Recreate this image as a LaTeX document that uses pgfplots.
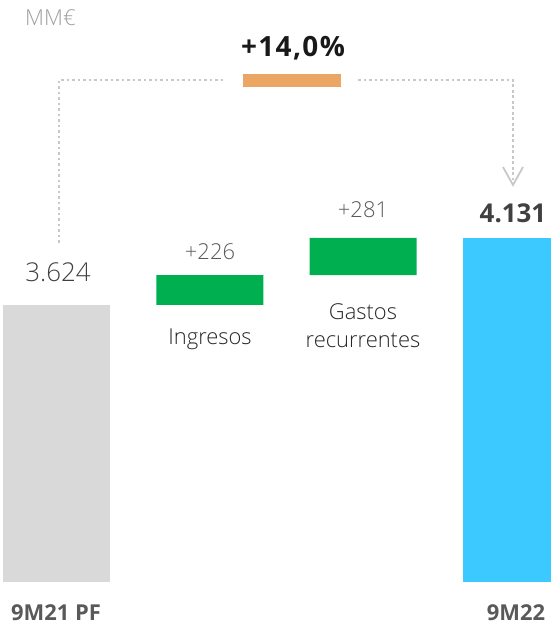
\documentclass[border=0pt]{standalone}
\usepackage{pgfplots}
\pgfplotsset{compat=1.18}
\usepackage{fontspec}
\setmainfont{Open Sans}
\newfontfamily\light{Open Sans Light}
\definecolor{cgray}{HTML}{D9D9D9}
\definecolor{cgreen}{HTML}{00B050}
\definecolor{cblue}{HTML}{3BC9FF}
\definecolor{corange}{HTML}{ECA663}
\definecolor{cdot}{HTML}{C8C8C8}
\definecolor{ctext}{HTML}{404040}
\definecolor{clab}{HTML}{595959}
\begin{document}
\begin{tikzpicture}[x=1bp,y=1bp]
\useasboundingbox (0,0) rectangle (551,627);
\begin{axis}[
  at={(0bp,45bp)}, anchor=south west,
  scale only axis, width=551bp, height=582bp,
  xmin=-0.368, xmax=3.225, ymin=1528, ymax=5932,
  hide axis, ybar stacked, bar width=107bp,
]
\addplot[draw=none, fill=none] coordinates {(0,0) (1,3624) (2,3850) (3,0)};
\addplot[draw=none, fill=cgray] coordinates {(0,3624) (1,0) (2,0) (3,0)};
\addplot[draw=none, fill=cgreen] coordinates {(0,0) (1,226) (2,281) (3,0)};
\addplot[draw=none, fill=cblue] coordinates {(0,0) (1,0) (2,0) (3,4131)};
\end{axis}
% connectors
\draw[cdot, line width=2.6bp, dash pattern=on 2.6bp off 2.9bp] (59,384) -- (59,547) -- (224,547);
\draw[cdot, line width=2.6bp, dash pattern=on 2.6bp off 2.9bp] (358,547) -- (513,547) -- (513,447);
\draw[cdot, line width=1.8bp] (503,460) -- (513,442) -- (523,460);
\fill[corange] (243,540) rectangle (341,553);
% texts
\node[anchor=west, inner sep=0, text=gray!75, font=\fontsize{22}{26}\selectfont\light] at (25,609) {MM€};
\node[inner sep=0, text=black!90, font=\fontsize{28}{32}\selectfont\bfseries\addfontfeature{LetterSpace=5}] at (293,579) {+14,0\%};
\node[inner sep=0, text=ctext, font=\fontsize{26}{30}\selectfont\light] at (58,355) {3.624};
\node[inner sep=0, text=clab, font=\fontsize{22}{25}\selectfont\light] at (210,375) {+226};
\node[inner sep=0, text=clab, font=\fontsize{22}{25}\selectfont\light] at (363,417) {+281};
\node[inner sep=0, text=ctext, font=\fontsize{26}{30}\selectfont\bfseries] at (513,414) {4.131};
\node[inner sep=0, text=black!85, font=\fontsize{22}{25}\selectfont\light] at (210,288) {Ingresos};
\node[inner sep=0, text=black!85, font=\fontsize{22}{25}\selectfont\light] at (363,315) {Gastos};
\node[inner sep=0, text=black!85, font=\fontsize{22}{25}\selectfont\light] at (363,287) {recurrentes};
\node[inner sep=0, text=clab, font=\fontsize{22}{26}\selectfont\bfseries] at (56,14) {9M21 PF};
\node[inner sep=0, text=clab, font=\fontsize{22}{26}\selectfont\bfseries] at (516,14) {9M22};
\end{tikzpicture}
\end{document}
